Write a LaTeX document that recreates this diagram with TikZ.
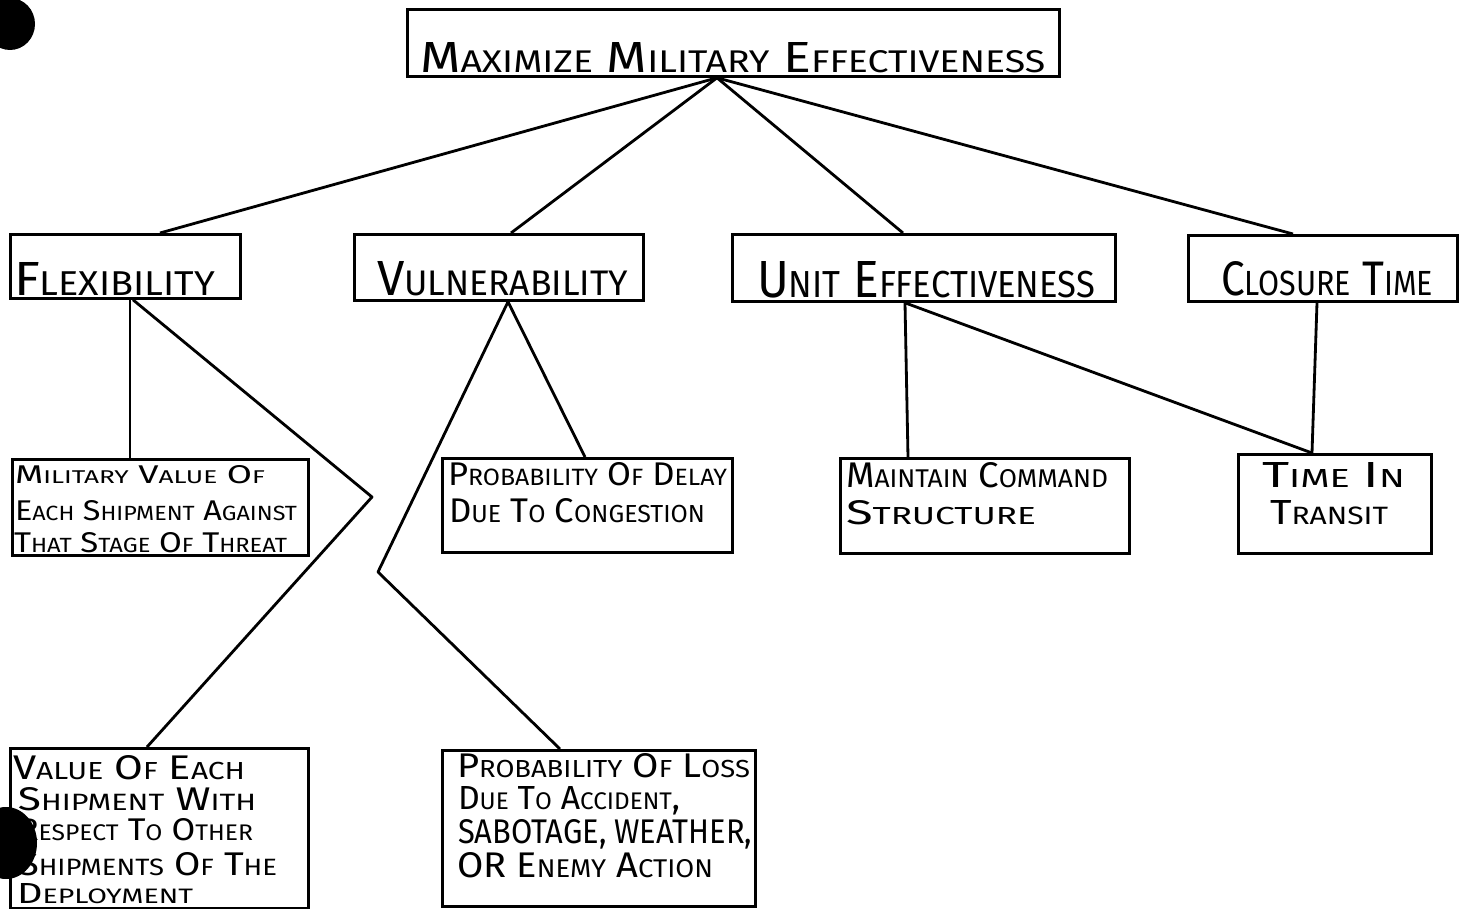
\documentclass[tikz,border=0pt]{standalone}
\usepackage{fontspec}
\setmainfont{Fira Sans}
\usepackage{graphicx}
\usetikzlibrary{calc}
\newlength\px \setlength\px{0.02cm}
\newcommand\W[2]{#1{\fontsize{7.2}{8}\selectfont\MakeUppercase{#2}}}
\tikzset{
  box/.style={draw=black, line width=1.6pt, inner sep=0pt, fill=none},
  txt/.style={anchor=base west, inner sep=0pt, outer sep=0pt},
  link/.style={draw=black, line width=1.6pt, line join=round},
  hole/.style={fill=black, draw=none}
}
\newcommand\Bx[5]{\node[box, minimum width={(#4-#2)*\px}, minimum height={(#5-#3)*\px}, anchor=north west] (#1) at (#2,#3) {};}
\newcommand\Ln[6]{\node[txt] (#1) at (#2,#3) {\resizebox{#4\px}{#5\px}{\fontsize{10}{12}\selectfont #6}};}
\begin{document}
\begin{tikzpicture}[x=0.02cm, y=-0.02cm]
\useasboundingbox (0,0) rectangle (1465,909);
\clip (0,0) rectangle (1465,909);
\fill[white] (0,0) rectangle (1465,909);
% boxes
\Bx{top}{406}{8}{1058}{75}
\Bx{flex}{9}{233}{239}{297}
\Bx{vul}{353}{233}{642}{299}
\Bx{ue}{731}{233}{1114}{300}
\Bx{ct}{1187}{234}{1456}{300}
\Bx{mv}{11}{458}{307}{554}
\Bx{pd}{441}{457}{731}{551}
\Bx{mc}{839}{457}{1128}{552}
\Bx{tt}{1237}{453}{1430}{552}
\Bx{ve}{9}{747}{307}{907}
\Bx{pl}{441}{749}{754}{905}
% texts
\Ln{ttop}{420}{73}{625}{30}{\W{M}{aximize} \W{M}{ilitary} \W{E}{ffectiveness}}
\Ln{tflex}{14}{295}{201}{33}{\W{F}{lexibility}}
\Ln{tvul}{377}{296}{251}{34}{\W{V}{ulnerability}}
\Ln{tue}{757}{297}{338}{36}{\W{U}{nit} \W{E}{ffectiveness}}
\Ln{tct}{1221}{296}{212}{34}{\W{C}{losure} \W{T}{ime}}
\Ln{tmv1}{15}{483}{250}{18}{\W{M}{ilitary} \W{V}{alue} \W{O}{f}}
\Ln{tmv2}{15}{520}{282}{20}{\W{E}{ach} \W{S}{hipment} \W{A}{gainst}}
\Ln{tmv3}{14}{552}{273}{20}{\W{T}{hat} \W{S}{tage} \W{O}{f} \W{T}{hreat}}
\Ln{tpd1}{448}{485}{279}{23}{\W{P}{robability} \W{O}{f} \W{D}{elay}}
\Ln{tpd2}{449}{522}{256}{24}{\W{D}{ue} \W{T}{o} \W{C}{ongestion}}
\Ln{tmc1}{846}{487}{262}{25}{\W{M}{aintain} \W{C}{ommand}}
\Ln{tmc2}{846}{524}{190}{24}{\W{S}{tructure}}
\Ln{ttt1}{1262}{487}{143}{25}{\W{T}{ime} \W{I}{n}}
\Ln{ttt2}{1270}{524}{118}{24}{\W{T}{ransit}}
\Ln{tve1}{13}{779}{232}{24}{\W{V}{alue} \W{O}{f} \W{E}{ach}}
\Ln{tve2}{18}{810}{238}{23}{\W{S}{hipment} \W{W}{ith}}
\Ln{tve3}{18}{840}{235}{22}{\W{R}{espect} \W{T}{o} \W{O}{ther}}
\Ln{tve4}{18}{875}{259}{23}{\W{S}{hipments} \W{O}{f} \W{T}{he}}
\Ln{tve5}{17}{903}{176}{20}{\W{D}{eployment}}
\Ln{tpl1}{457}{777}{293}{24}{\W{P}{robability} \W{O}{f} \W{L}{oss}}
\Ln{tpl2}{458}{809}{222}{23}{\W{D}{ue} \W{T}{o} \W{A}{ccident},}
\Ln{tpl3}{458}{843}{294}{24}{SABOTAGE, WEATHER,}
\Ln{tpl4}{457}{877}{256}{25}{OR \W{E}{nemy} \W{A}{ction}}
% bend points
\coordinate (c1) at (372,497);
\coordinate (c2) at (378,572);
% connectors
\draw[link] ($(top.south west)+(311,0)$) -- ($(flex.north west)+(151,0)$);
\draw[link] ($(top.south west)+(311,0)$) -- ($(vul.north west)+(158,0)$);
\draw[link] ($(top.south west)+(311,0)$) -- ($(ue.north west)+(172,0)$);
\draw[link] ($(top.south west)+(311,0)$) -- ($(ct.north west)+(106,0)$);
\draw[link] ($(flex.south west)+(121,0)$) -- ($(mv.north west)+(119,0)$);
\draw[link] ($(flex.south west)+(124,0)$) -- (c1) -- ($(ve.north west)+(138,0)$);
\draw[link] ($(vul.south west)+(155,0)$) -- ($(pd.north west)+(144,0)$);
\draw[link] ($(vul.south west)+(155,0)$) -- (c2) -- ($(pl.north west)+(119,0)$);
\draw[link] ($(ue.south west)+(174,0)$) -- ($(mc.north west)+(69,0)$);
\draw[link] ($(ue.south west)+(174,0)$) -- ($(tt.north west)+(75,0)$);
\draw[link] ($(ct.south west)+(130,0)$) -- ($(tt.north west)+(75,0)$);
% punch holes
\fill[hole] (10,24) ellipse [x radius=25, y radius=26];
\fill[hole] (6,843) ellipse [x radius=31, y radius=36];
\end{tikzpicture}
\end{document}
